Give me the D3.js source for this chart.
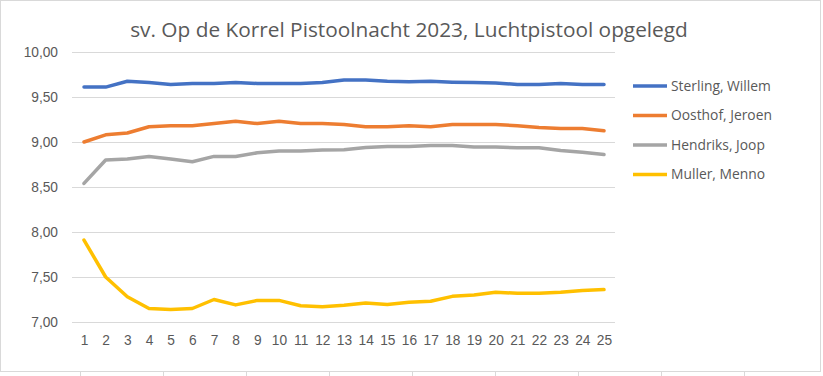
<!DOCTYPE html>
<html>
<head>
<meta charset="utf-8">
<script src="https://cdn.jsdelivr.net/npm/d3@7"></script>
<style>
  body { margin: 0; background: #fff; }
  svg { display: block; font-family: "Open Sans", "Noto Sans", sans-serif; }
</style>
</head>
<body>
<div id="chart"></div>
<script>
// data
const rounds = d3.range(1, 26);
const seriesNames = ["Sterling, Willem", "Oosthof, Jeroen", "Hendriks, Joop", "Muller, Menno"];
const sterling = [9.61, 9.61, 9.675, 9.66, 9.64, 9.65, 9.65, 9.66, 9.65, 9.65, 9.65, 9.66, 9.69,
                  9.69, 9.675, 9.67, 9.675, 9.665, 9.66, 9.655, 9.64, 9.64, 9.65, 9.64, 9.64];
const oosthof = [9.00, 9.08, 9.10, 9.17, 9.18, 9.18, 9.205, 9.23, 9.205, 9.23, 9.205, 9.205, 9.195,
                 9.17, 9.17, 9.18, 9.17, 9.195, 9.195, 9.195, 9.18, 9.16, 9.15, 9.15, 9.125];
const hendriks = [8.54, 8.80, 8.81, 8.84, 8.81, 8.78, 8.84, 8.84, 8.88, 8.90, 8.90, 8.91, 8.915,
                  8.94, 8.95, 8.95, 8.96, 8.96, 8.945, 8.945, 8.935, 8.935, 8.905, 8.885, 8.86];
const muller = [7.91, 7.50, 7.28, 7.15, 7.14, 7.15, 7.25, 7.19, 7.24, 7.24, 7.18, 7.17, 7.185,
                7.21, 7.195, 7.22, 7.23, 7.285, 7.30, 7.33, 7.32, 7.32, 7.33, 7.35, 7.36];
const yTicks = [7.0, 7.5, 8.0, 8.5, 9.0, 9.5, 10.0];
const colors = ["#4472C4", "#ED7D31", "#A5A5A5", "#FFC000"];
const titleText = "sv. Op de Korrel Pistoolnacht 2023, Luchtpistool opgelegd";

const W = 823, H = 376;
const textColor = "#595959";
const nl = d3.formatLocale({ decimal: ",", thousands: ".", grouping: [3], currency: ["€", ""] });
const fmt = nl.format(".2f");

const svg = d3.select("#chart").append("svg")
    .attr("width", W)
    .attr("height", H);

// font size that makes a string about `target` px wide
function fitSize(str, base, target) {
    const t = svg.append("text").style("font-size", base + "px").text(str);
    const w = t.node().getComputedTextLength();
    t.remove();
    return base * target / w;
}
const tickSize = fitSize("10,00", 13, 35);
const legendSize = fitSize("Sterling, Willem", 13, 100);

// chart frame + spreadsheet cells peeking below
svg.append("rect")
    .attr("x", 0.5).attr("y", 0.5)
    .attr("width", 820).attr("height", 371)
    .attr("fill", "#fff")
    .attr("stroke", "#d9d9d9");
const cells = svg.append("g").attr("stroke", "#d9d9d9");
d3.range(80, 823, 83).forEach(cx => {
    cells.append("line").attr("x1", cx + 0.5).attr("x2", cx + 0.5).attr("y1", 372).attr("y2", 376);
});

const x = d3.scalePoint().domain(rounds).range([84, 604]);
const y = d3.scaleLinear().domain([7, 10]).range([322, 52]);

// gridlines
svg.append("g")
    .selectAll("line")
    .data(yTicks)
    .join("line")
    .attr("x1", 72).attr("x2", 615)
    .attr("y1", d => Math.round(y(d)) + 0.5)
    .attr("y2", d => Math.round(y(d)) + 0.5)
    .attr("stroke", "#d9d9d9")
    .attr("stroke-width", 1);

// y axis labels
const yAxis = svg.append("g")
    .attr("transform", "translate(72,0)")
    .call(d3.axisLeft(y).tickValues(yTicks).tickFormat(fmt).tickSize(0).tickPadding(14));
yAxis.select(".domain").remove();
yAxis.selectAll("text")
    .attr("fill", textColor)
    .style("font-size", tickSize + "px");

// x axis labels
const xAxis = svg.append("g")
    .attr("transform", "translate(0,322)")
    .call(d3.axisBottom(x).tickSize(0).tickPadding(13));
xAxis.select(".domain").remove();
xAxis.selectAll("text")
    .attr("fill", textColor)
    .style("font-size", tickSize + "px");

// lines
const allSeries = [sterling, oosthof, hendriks, muller];
const line = d3.line()
    .x((d, i) => x(rounds[i]))
    .y(d => y(d));

allSeries.forEach((vals, i) => {
    svg.append("path")
        .datum(vals)
        .attr("fill", "none")
        .attr("stroke", colors[i])
        .attr("stroke-width", 3.5)
        .attr("stroke-linejoin", "round")
        .attr("stroke-linecap", "round")
        .attr("d", line);
});

// legend
const legend = svg.append("g");
seriesNames.forEach((name, i) => {
    const ly = 86 + i * 29.5;
    legend.append("line")
        .attr("x1", 633).attr("x2", 667)
        .attr("y1", ly).attr("y2", ly)
        .attr("stroke", colors[i])
        .attr("stroke-width", 3.5);
    legend.append("text")
        .attr("x", 671).attr("y", ly)
        .attr("dy", "0.35em")
        .attr("fill", textColor)
        .style("font-size", legendSize + "px")
        .text(name);
});

// title, sized to the reference width
const title = svg.append("text")
    .attr("x", 409).attr("y", 37)
    .attr("text-anchor", "middle")
    .attr("fill", textColor)
    .style("font-size", fitSize(titleText, 19, 558) + "px")
    .text(titleText);
</script>
</body>
</html>
